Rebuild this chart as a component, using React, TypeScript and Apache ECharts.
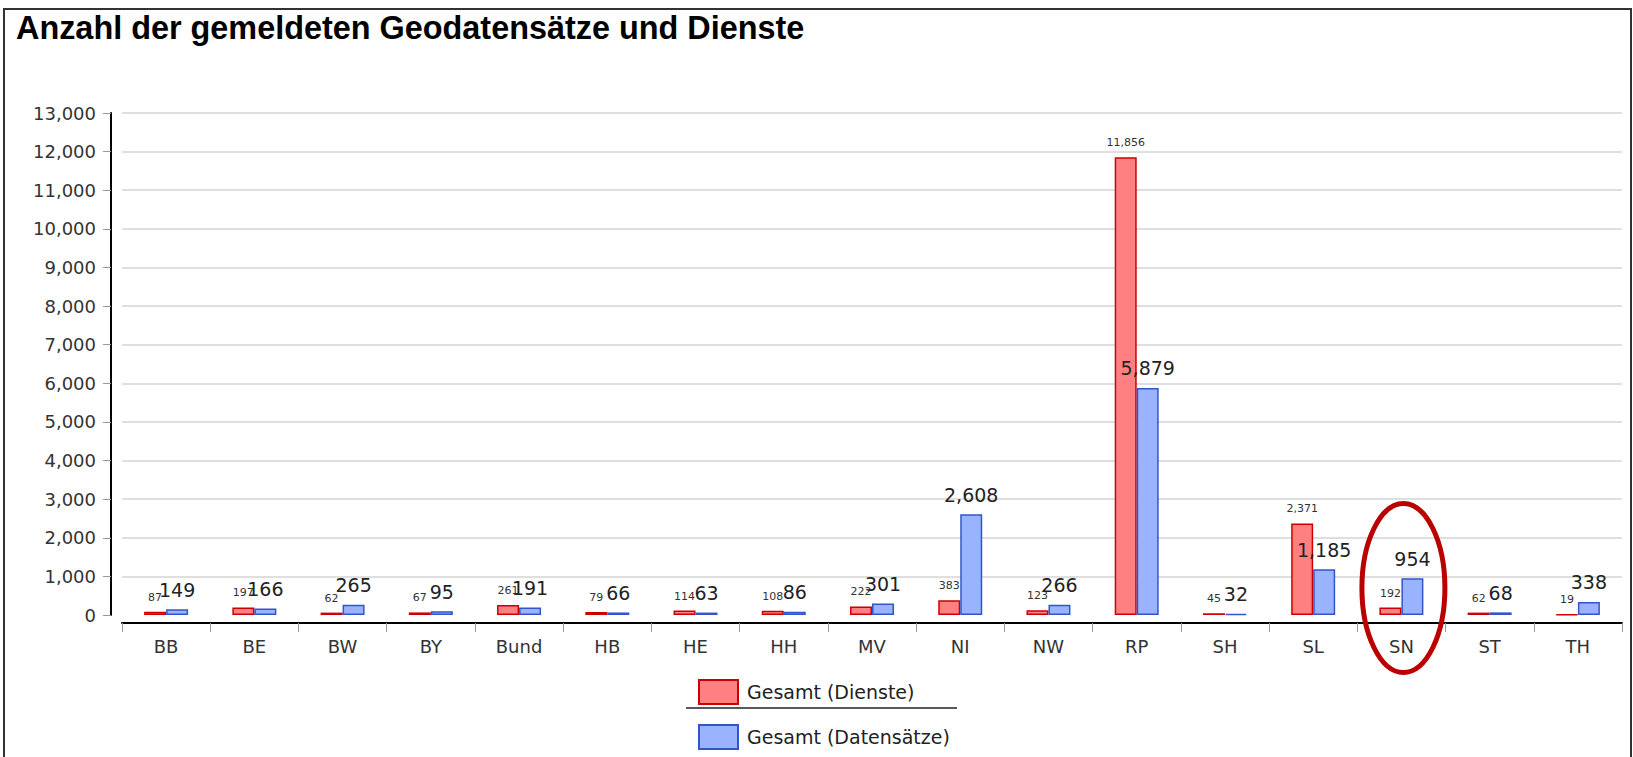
import React, { useEffect, useRef } from "react";
import * as echarts from "echarts";

const categories = ["BB", "BE", "BW", "BY", "Bund", "HB", "HE", "HH", "MV", "NI", "NW", "RP", "SH", "SL", "SN", "ST", "TH"];
const dienste = [87, 197, 62, 67, 261, 79, 114, 108, 222, 383, 123, 11856, 45, 2371, 192, 62, 19];
const datensaetze = [149, 166, 265, 95, 191, 66, 63, 86, 301, 2608, 266, 5879, 32, 1185, 954, 68, 338];
const seriesNames = ["Gesamt (Dienste)", "Gesamt (Datensätze)"];
const titleText = "Anzahl der gemeldeten Geodatensätze und Dienste";
const highlighted = "SN";

const fmt = (v: number) => Number(v).toLocaleString("en-US");

export default function App() {
  const ref = useRef<HTMLDivElement>(null);
  useEffect(() => {
    document.body.style.margin = "0";
    const chart = echarts.init(ref.current!, null, { renderer: "svg" });
    const gridColors = ["rgba(0,0,0,0)"];
    for (let i = 0; i < 13; i++) gridColors.push("#d4d4d4");
    chart.setOption({
      animation: false,
      backgroundColor: "#fff",
      textStyle: { fontFamily: "DejaVu Sans" },
      title: {
        text: titleText,
        left: 16,
        top: 12,
        padding: 0,
        textStyle: { fontFamily: "Liberation Sans", fontWeight: "bold", fontSize: 32.4, color: "#000" },
      },
      grid: { left: 122, right: 11, top: 113, bottom: 142, containLabel: false },
      legend: {
        orient: "vertical",
        left: 693,
        top: 674,
        itemWidth: 39,
        itemHeight: 24,
        itemGap: 19,
        icon: "rect",
        textStyle: { fontSize: 19, color: "#222", fontFamily: "DejaVu Sans", padding: [0, 0, 0, 4] },
        data: seriesNames,
      },
      xAxis: {
        type: "category",
        data: categories,
        offset: 8,
        axisLine: { onZero: false, lineStyle: { color: "#000", width: 2 } },
        axisTick: { show: true, length: 9, lineStyle: { color: "#999" } },
        axisLabel: { fontSize: 18, color: "#333", margin: 14 },
      },
      yAxis: {
        type: "value",
        min: 0,
        max: 13000,
        interval: 1000,
        offset: 11,
        axisLine: { show: true, lineStyle: { color: "#000", width: 2 } },
        axisTick: { show: true, length: 8, lineStyle: { color: "#999" } },
        axisLabel: { fontSize: 18, color: "#333", margin: 15, formatter: (v: number) => fmt(v) },
        splitLine: { lineStyle: { color: gridColors, width: 1.5 } },
      },
      series: [
        {
          name: seriesNames[0],
          type: "bar",
          data: dienste,
          barWidth: 22,
          barGap: "0%",
          itemStyle: { color: "#ff8080", borderColor: "#cc0000", borderWidth: 1.5 },
          label: { show: true, position: "top", distance: 9, fontSize: 11, color: "#333", formatter: (p: any) => fmt(p.value) },
        },
        {
          name: seriesNames[1],
          type: "bar",
          data: datensaetze,
          barWidth: 22,
          barGap: "0%",
          itemStyle: { color: "#99b3ff", borderColor: "#3355cc", borderWidth: 1.5 },
          label: { show: true, position: "top", distance: 10, fontSize: 19, color: "#222", formatter: (p: any) => fmt(p.value) },
        },
      ],
    });
    const cx = chart.convertToPixel({ xAxisIndex: 0 }, highlighted) as number;
    chart.setOption({
      graphic: [
        { type: "rect", shape: { x: 4, y: 9, width: 1627, height: 760 }, style: { fill: "none", stroke: "#333", lineWidth: 2 }, silent: true },
        { type: "line", shape: { x1: 686, y1: 708, x2: 957, y2: 708 }, style: { stroke: "#222", lineWidth: 1.5 }, silent: true },
        { type: "ellipse", shape: { cx: cx + 2, cy: 588, rx: 41.5, ry: 84.5 }, style: { fill: "none", stroke: "#bb0000", lineWidth: 5 }, silent: true, z: 100 },
      ],
    });
    return () => chart.dispose();
  }, []);
  return <div ref={ref} style={{ width: 1633, height: 757 }} />;
}
